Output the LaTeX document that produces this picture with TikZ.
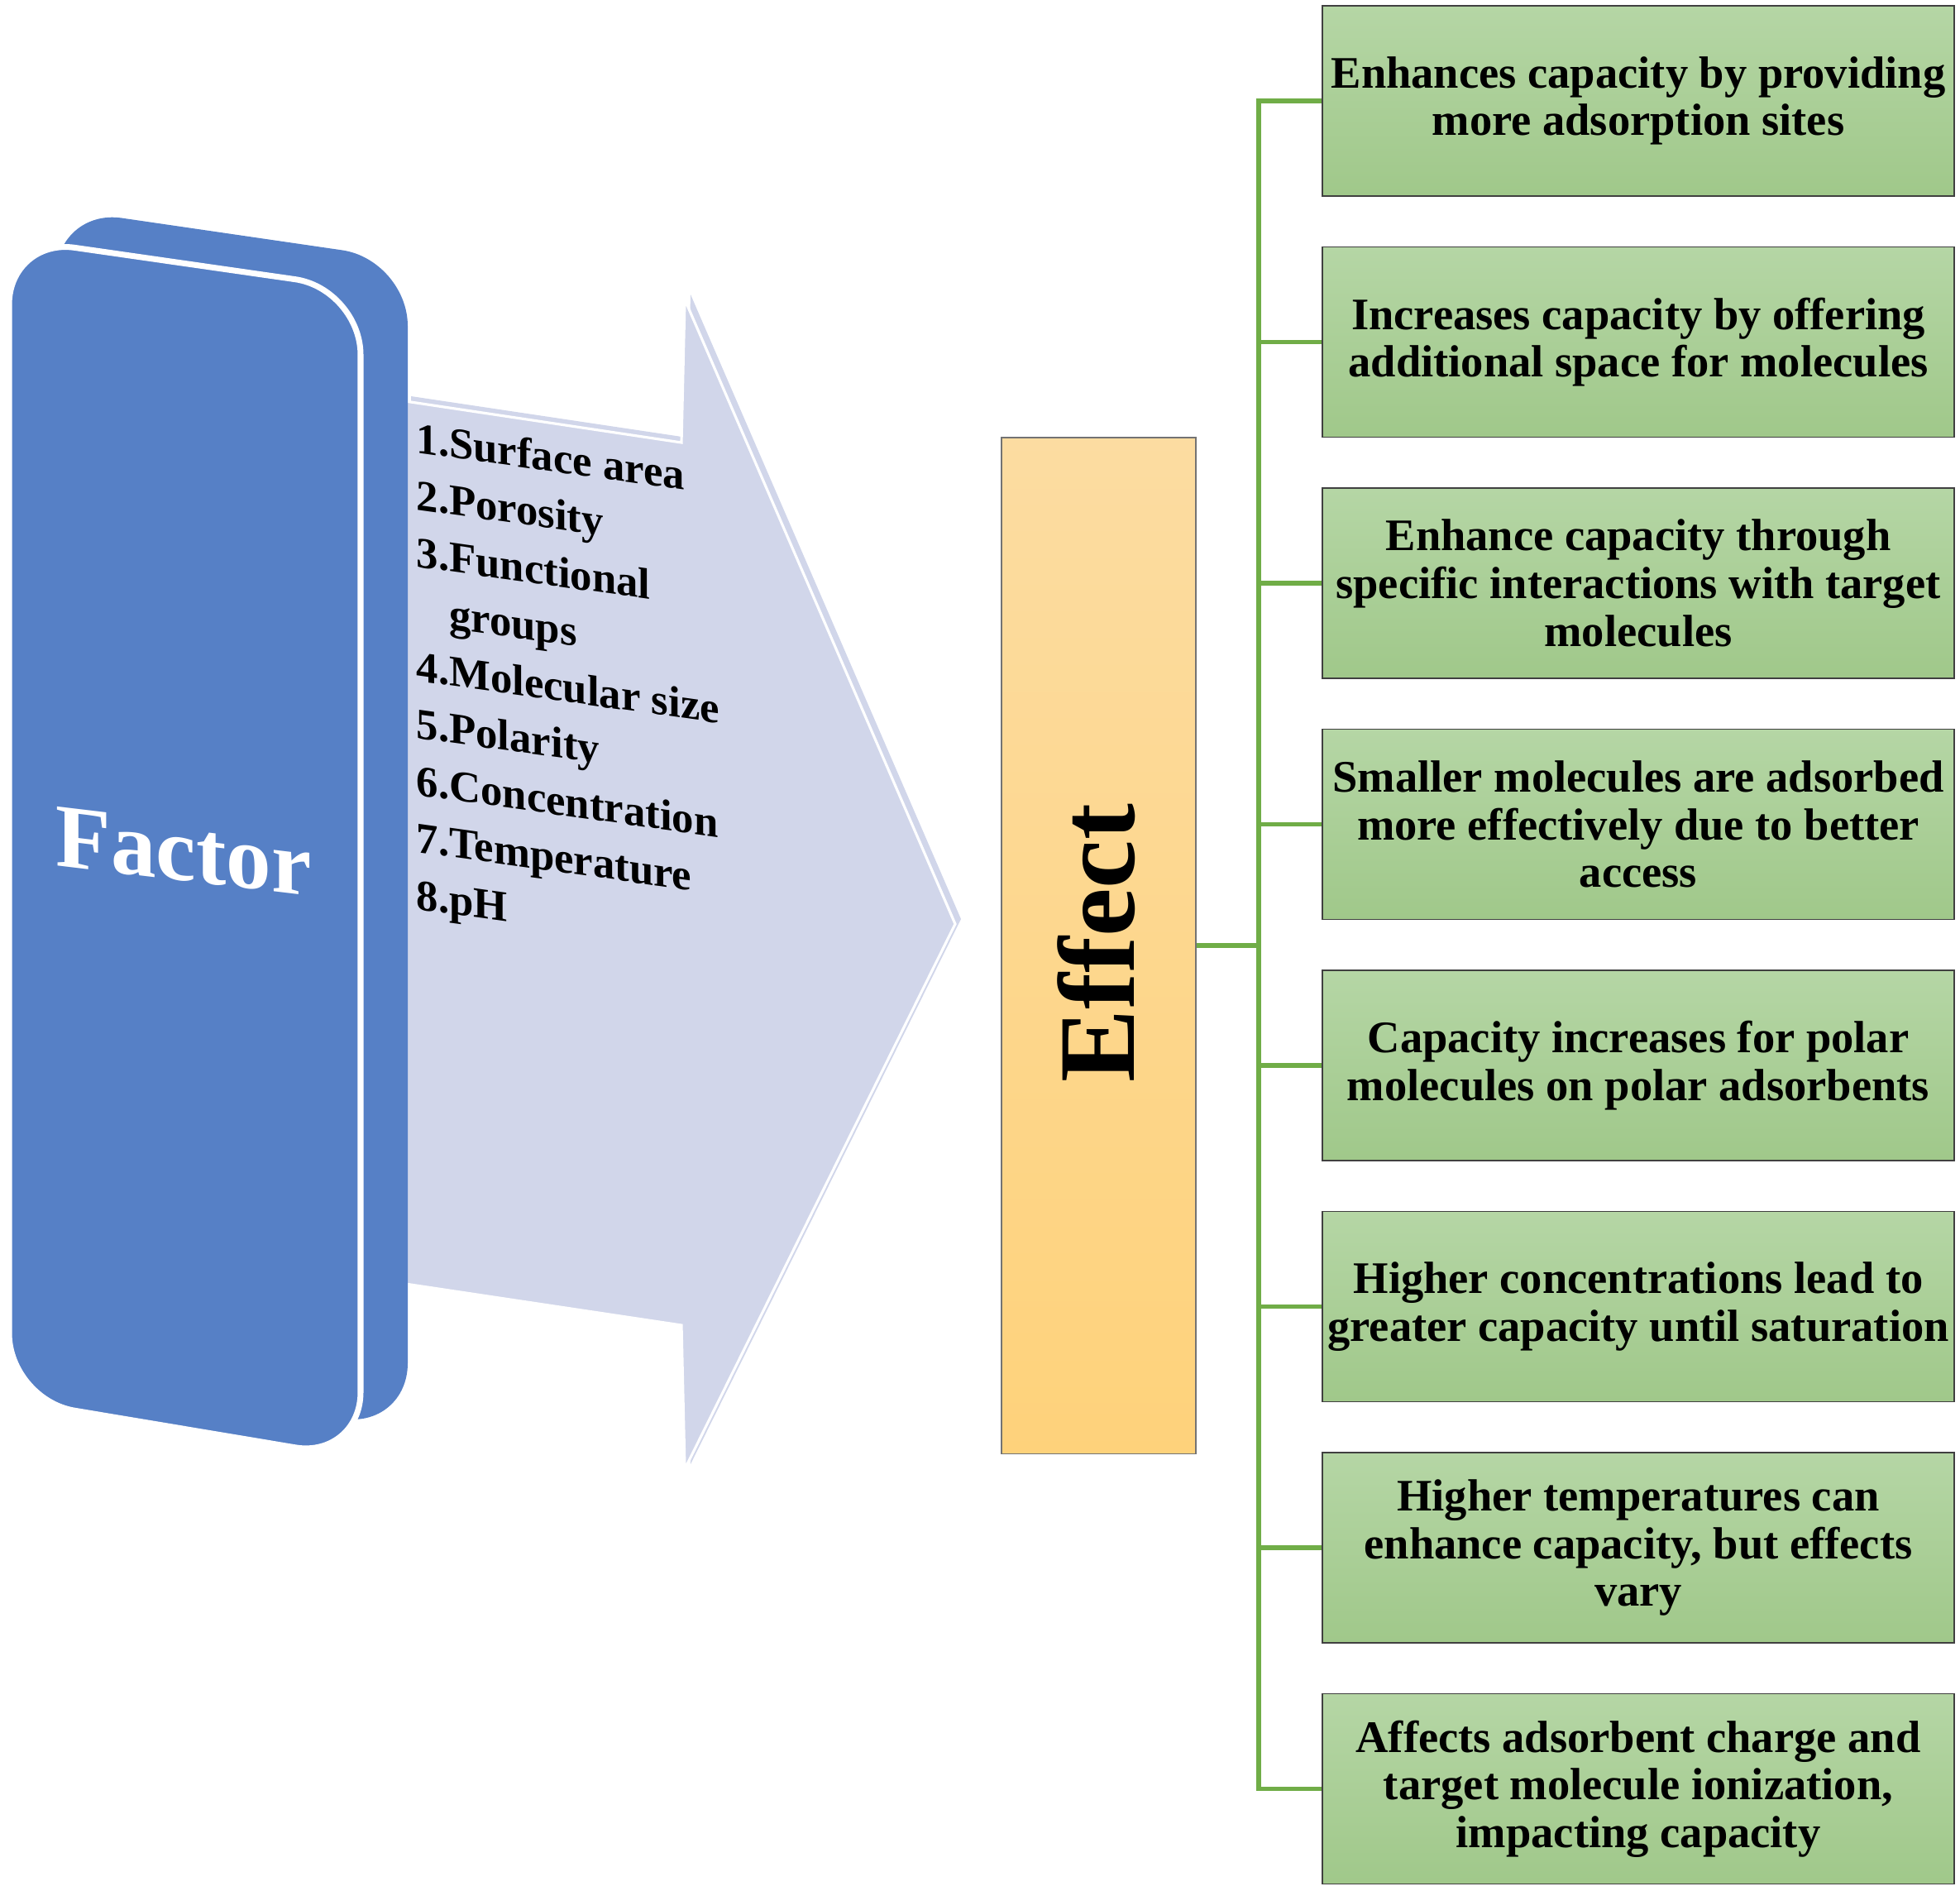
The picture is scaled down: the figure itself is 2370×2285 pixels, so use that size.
\documentclass[tikz,border=0pt]{standalone}
\usepackage{fontspec}
\setmainfont{Liberation Serif}
\usepackage{xcolor}
\usepackage{tikz}
\definecolor{factorblue}{HTML}{5680C6}
\definecolor{arrowgray}{HTML}{D1D6EA}
\definecolor{effecttop}{HTML}{FCDCA1}
\definecolor{effectbot}{HTML}{FED27B}
\definecolor{greentop}{HTML}{B5D6A5}
\definecolor{greenbot}{HTML}{A0C88A}
\definecolor{linkgreen}{HTML}{70AD47}
\tikzset{
	effectbox/.style={draw=black!75, line width=0.5pt, top color=greentop, bottom color=greenbot,
		minimum width=7.64cm, minimum height=2.3cm, inner sep=1pt, align=center,
		font=\bfseries\fontsize{15.5}{16.4}\selectfont},
	listitem/.style={anchor=base west, yslant=-0.14, transform shape, inner sep=0pt,
		font=\bfseries\fontsize{15}{19}\selectfont},
	link/.style={linkgreen, line width=1.6pt},
}

\begin{document}
\begin{tikzpicture}[x=0.01cm, y=-0.01cm]
		\useasboundingbox (0,0) rectangle (2370,2285);

		% arrow, back copy then front face
		\fill[arrowgray, shift={(7,-6)}] (490,485) -- (824,535) -- (828,362) -- (1155,1117) -- (828,1776) -- (824,1602) -- (490,1552) -- cycle;
		\filldraw[fill=arrowgray, draw=white, line width=0.9pt] (490,485) -- (824,535) -- (828,362) -- (1155,1117) -- (828,1776) -- (824,1602) -- (490,1552) -- cycle;

		% factor slab
		\fill[factorblue, rounded corners=0.8cm] (68,252) -- (493,314) -- (493,1728) -- (68,1657) -- cycle;
		\filldraw[fill=factorblue, draw=white, line width=2pt, rounded corners=0.8cm] (11,288) -- (436,349) -- (436,1763) -- (11,1692) -- cycle;
		\node[text=white, anchor=base west, yslant=-0.12, transform shape, inner sep=0pt,
			font=\bfseries\fontsize{31}{31}\selectfont] (factor) at (67,1046) {Factor};

		\foreach \txt [count=\i from 0] in {1.Surface area, 2.Porosity, 3.Functional, \phantom{3.}groups,
			4.Molecular size, 5.Polarity, 6.Concentration, 7.Temperature, 8.pH}
			\node[listitem] (f\i) at (503,{547+69*\i}) {\txt};

		% effect column
		\node[draw=black!55, line width=0.5pt, top color=effecttop, bottom color=effectbot,
			minimum width=2.35cm, minimum height=12.28cm] (effect) at (1328.5,1143) {};
		\node[rotate=90, font=\bfseries\fontsize{37.5}{37.5}\selectfont] (effectlabel) at (1326,1140) {Effect};

		\foreach \txt [count=\i] in {
			{Enhances capacity by providing\\more adsorption sites},
			{Increases capacity by offering\\additional space for molecules},
			{Enhance capacity through\\specific interactions with target\\molecules},
			{Smaller molecules are adsorbed\\more effectively due to better\\access},
			{Capacity increases for polar\\molecules on polar adsorbents},
			{Higher concentrations lead to\\greater capacity until saturation},
			{Higher temperatures can\\enhance capacity, but effects\\vary},
			{Affects adsorbent charge and\\target molecule ionization,\\impacting capacity}}
			\node[effectbox] (e\i) at (1981,{122+291.5*(\i-1)}) {\txt};

		\coordinate (bus) at (1522,1143);
		\draw[link] (effect.east) -- (bus);
		\draw[link] (e1.west) -- (e1.west -| bus) -- (e8.west -| bus) -- (e8.west);
		\foreach \i in {2,...,7}
			\draw[link] (e\i.west) -- (e\i.west -| bus);
	\end{tikzpicture}
\end{document}
